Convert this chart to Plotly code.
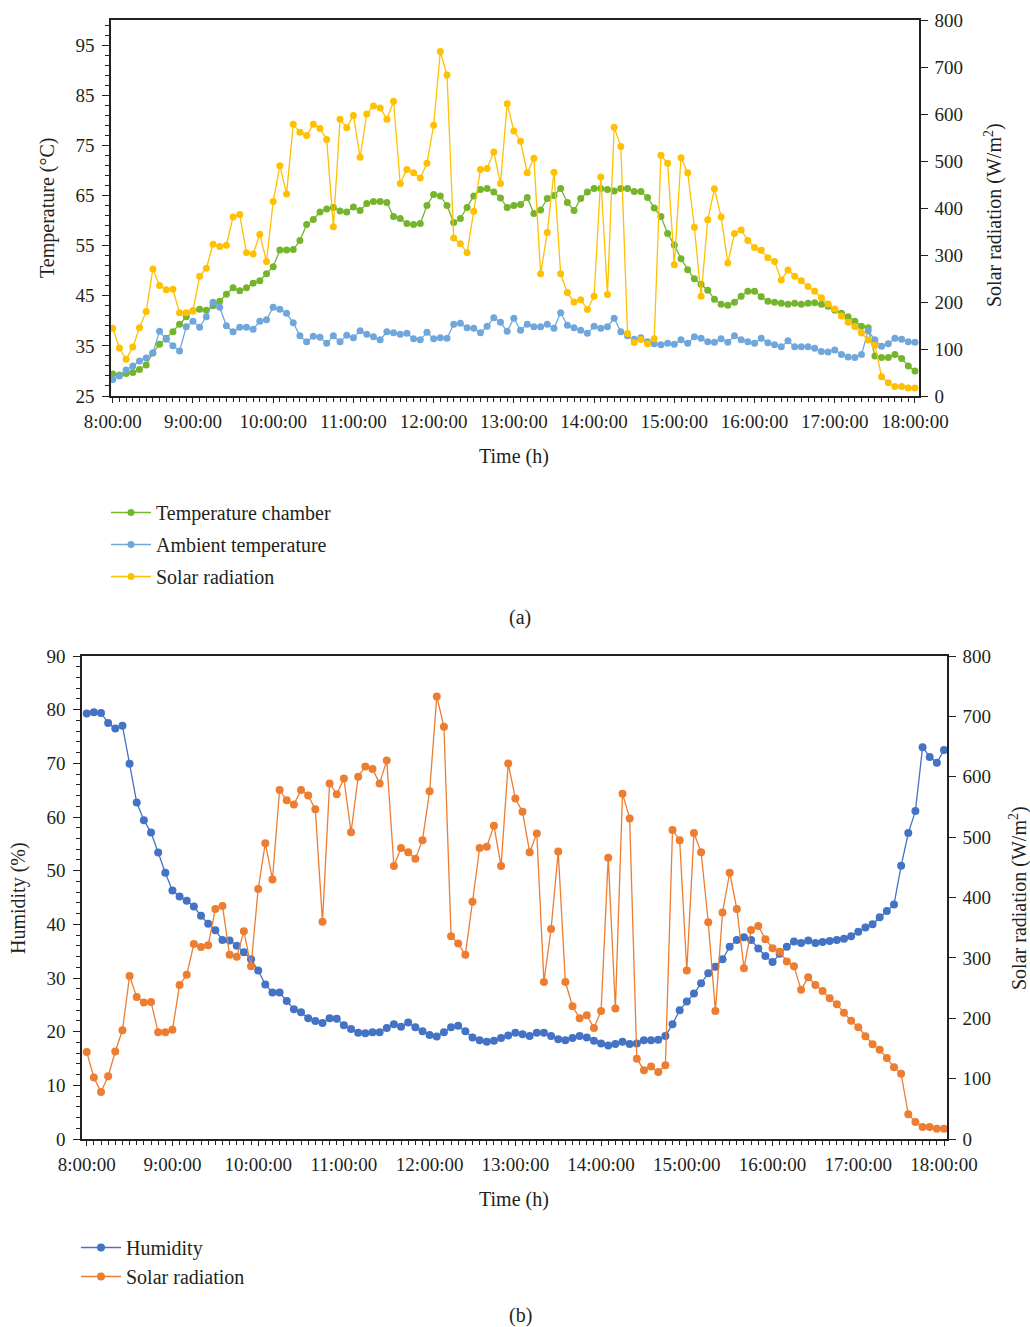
import plotly.graph_objects as go

# ---------------- data ----------------
hour_labels = ["8:00:00", "9:00:00", "10:00:00", "11:00:00", "12:00:00", "13:00:00",
               "14:00:00", "15:00:00", "16:00:00", "17:00:00", "18:00:00"]
hour_ticks = [0, 60, 120, 180, 240, 300, 360, 420, 480, 540, 600]   # minutes after 8:00
# sampling instants: every 5 minutes from 8:00 to 18:00 (minutes after 8:00)
minutes = list(range(0, 601, 5))

temperature_chamber = [
    29.4, 29.2, 29.5, 29.7, 30.3, 31.2, 33.6, 35.3, 36.5, 37.8, 39.3, 40.8, 42.0, 42.3, 42.1, 43.0,
    43.9, 45.3, 46.6, 46.0, 46.6, 47.5, 48.0, 49.4, 50.8, 54.1, 54.1, 54.2, 56.0, 59.2, 60.2, 61.7,
    62.3, 62.6, 61.9, 61.7, 62.7, 62.0, 63.4, 63.8, 63.8, 63.6, 60.8, 60.4, 59.4, 59.2, 59.4, 63.0,
    65.2, 64.9, 63.0, 59.6, 60.4, 62.6, 64.9, 66.2, 66.4, 65.7, 64.5, 62.6, 63.0, 63.2, 64.6, 61.4,
    62.1, 64.4, 65.0, 66.4, 63.6, 62.0, 64.4, 65.7, 66.4, 66.4, 66.2, 65.9, 66.4, 66.4, 65.8, 65.8,
    64.6, 62.5, 60.8, 57.4, 55.1, 52.4, 50.2, 48.4, 47.3, 46.1, 44.3, 43.3, 43.1, 43.7, 44.9, 45.9,
    45.9, 44.8, 43.9, 43.7, 43.5, 43.3, 43.5, 43.3, 43.5, 43.6, 43.3, 42.9, 42.1, 41.5, 40.8, 39.9,
    38.9, 38.6, 33.0, 32.7, 32.7, 33.3, 32.5, 31.0, 30.0]

ambient_temperature = [
    28.3, 29.0, 30.2, 31.0, 32.0, 32.6, 33.6, 37.9, 36.3, 35.0, 34.0, 38.8, 39.9, 38.7, 40.8, 43.7,
    42.7, 39.0, 37.8, 38.7, 38.7, 38.3, 39.9, 40.2, 42.7, 42.3, 41.5, 39.6, 37.0, 35.8, 36.9, 36.7,
    35.5, 37.0, 35.8, 37.1, 36.6, 38.0, 37.3, 36.8, 36.2, 37.8, 37.6, 37.3, 37.5, 36.4, 36.2, 37.7,
    36.4, 36.6, 36.5, 39.3, 39.5, 38.6, 38.5, 37.6, 38.9, 40.6, 39.7, 37.9, 40.5, 38.1, 39.3, 38.8,
    38.8, 39.3, 38.5, 41.6, 39.1, 38.6, 38.1, 37.5, 38.9, 38.5, 38.8, 40.5, 37.8, 37.0, 36.3, 36.6,
    35.8, 35.4, 35.2, 35.5, 35.3, 36.2, 35.5, 36.8, 36.5, 35.8, 35.7, 36.4, 35.7, 37.0, 36.2, 35.8,
    35.5, 36.5, 35.6, 35.2, 34.8, 36.0, 34.8, 34.8, 34.8, 34.5, 33.9, 33.8, 34.2, 33.3, 32.8, 32.7,
    33.3, 38.0, 36.2, 34.9, 35.4, 36.5, 36.3, 35.8, 35.7]

solar_radiation = [
    144, 102, 78, 104, 145, 180, 270, 235, 226, 227, 177, 177, 181, 255, 272, 323,
    318, 321, 381, 386, 305, 302, 344, 286, 414, 490, 430, 578, 561, 554, 578, 569,
    546, 360, 589, 571, 597, 508, 600, 617, 613, 589, 627, 452, 482, 475, 464, 495,
    576, 733, 683, 336, 324, 305, 393, 482, 484, 519, 452, 622, 564, 542, 475, 506,
    260, 348, 476, 260, 220, 200, 205, 184, 212, 466, 216, 572, 531, 133, 114, 120,
    111, 122, 512, 495, 279, 507, 475, 359, 212, 375, 441, 381, 283, 346, 353, 331,
    316, 310, 294, 286, 247, 268, 255, 245, 233, 223, 209, 196, 185, 170, 157, 148,
    134, 119, 108, 41, 28, 20, 20, 17, 17]

humidity = [
    79.3, 79.5, 79.4, 77.5, 76.5, 77.0, 69.9, 62.7, 59.4, 57.1, 53.4, 49.6, 46.3, 45.2, 44.4, 43.3,
    41.6, 40.1, 38.9, 37.1, 37.0, 36.0, 34.8, 33.5, 31.4, 28.8, 27.3, 27.3, 25.7, 24.2, 23.6, 22.5,
    22.0, 21.6, 22.5, 22.4, 21.2, 20.5, 19.8, 19.7, 19.9, 19.9, 20.7, 21.4, 20.9, 21.7, 20.8, 20.1,
    19.4, 19.1, 19.9, 20.8, 21.1, 20.1, 18.9, 18.4, 18.1, 18.3, 18.8, 19.3, 19.8, 19.5, 19.2, 19.8,
    19.8, 19.2, 18.6, 18.4, 18.8, 19.2, 18.9, 18.3, 17.8, 17.4, 17.7, 18.1, 17.7, 17.8, 18.4, 18.4,
    18.5, 19.2, 21.4, 24.0, 25.6, 27.1, 29.0, 30.9, 32.1, 33.5, 35.8, 37.1, 37.6, 37.1, 35.5, 34.1,
    33.0, 34.5, 35.8, 36.8, 36.5, 37.0, 36.5, 36.7, 36.9, 37.1, 37.3, 37.8, 38.6, 39.4, 40.0, 41.3,
    42.5, 43.7, 50.9, 57.0, 61.1, 73.0, 71.2, 70.1, 72.5]

# ---------------- style ----------------
W, H = 1030, 1327
FONT = "Liberation Serif"
AX = "#231f20"
GREEN = "#74B52C"
LBLUE = "#6FA7DC"
YELLOW = "#FFC000"
BLUE = "#4472C4"
ORANGE = "#ED7D31"


def px(x):
    return x / W


def py(y):
    return 1 - y / H


def trace(x, y, name, color, xa, ya, leg, grp, msize):
    return go.Scatter(x=x, y=y, name=name, mode="lines+markers",
                      line=dict(color=color, width=1.3),
                      marker=dict(color=color, size=msize),
                      xaxis=xa, yaxis=ya, legend=leg, legendgroup=grp)


fig = go.Figure()
fig.add_trace(trace(minutes, temperature_chamber, "Temperature chamber", GREEN, "x", "y", "legend", "a1", 7))
fig.add_trace(trace(minutes, ambient_temperature, "Ambient temperature", LBLUE, "x", "y", "legend", "a2", 7))
fig.add_trace(trace(minutes, solar_radiation, "Solar radiation", YELLOW, "x", "y2", "legend", "a3", 7))
fig.add_trace(trace(minutes, humidity, "Humidity", BLUE, "x2", "y3", "legend2", "b1", 8))
fig.add_trace(trace(minutes, solar_radiation, "Solar radiation", ORANGE, "x2", "y4", "legend2", "b2", 8))

tickfont = dict(family=FONT, size=19, color="#231f20")


def xaxis(dom, yanchor, rng):
    return dict(domain=dom, anchor=yanchor, range=rng, tickmode="array",
                tickvals=hour_ticks, ticktext=hour_labels, ticks="outside", ticklen=5,
                tickcolor=AX, tickwidth=1, showline=True, linecolor=AX, linewidth=1.5,
                mirror=True, showgrid=False, zeroline=False, tickfont=tickfont,
                ticklabelstandoff=2, automargin=False,
                minor=dict(tickmode="linear", tick0=0, dtick=5, ticks="outside",
                           ticklen=4, tickcolor=AX, tickwidth=1, showgrid=False))


def yleft(dom, xanchor, rng, t0, dt, mdt):
    return dict(domain=dom, anchor=xanchor, range=rng, tick0=t0, dtick=dt,
                ticks="outside", ticklen=7, tickcolor=AX, tickwidth=1, showline=True,
                linecolor=AX, linewidth=1.5, showgrid=False, zeroline=False,
                tickfont=tickfont, ticklabelstandoff=4, automargin=False,
                minor=dict(tick0=t0, dtick=mdt, ticks="outside", ticklen=4,
                           tickcolor=AX, tickwidth=1, showgrid=False))


def yright(over, xanchor, rng):
    return dict(overlaying=over, anchor=xanchor, side="right", range=rng, tick0=0,
                dtick=100, ticks="outside", ticklen=7, tickcolor=AX, tickwidth=1,
                showline=True, linecolor=AX, linewidth=1.5, showgrid=False,
                zeroline=False, tickfont=tickfont, ticklabelstandoff=3, automargin=False)


fig.update_layout(
    width=W, height=H,
    margin=dict(l=0, r=0, t=0, b=0, autoexpand=False),
    paper_bgcolor="white", plot_bgcolor="white",
    font=dict(family=FONT, size=20, color="#231f20"),
    xaxis=xaxis([px(111), px(919)], "y", [-1.3, 603]),
    yaxis=yleft([py(396), py(20)], "x", [25, 100], 25, 10, 2),
    yaxis2=yright("y", "x", [0, 800]),
    xaxis2=xaxis([px(82), px(947)], "y3", [-3.3, 602.1]),
    yaxis3=yleft([py(1139), py(656)], "x2", [0, 90], 0, 10, 2),
    yaxis4=yright("y3", "x2", [0, 800]),
    legend=dict(x=px(106), y=py(493), xanchor="left", yanchor="top",
                orientation="v", tracegroupgap=3, bgcolor="rgba(0,0,0,0)",
                font=dict(family=FONT, size=20), itemwidth=40),
    legend2=dict(x=px(76), y=py(1228), xanchor="left", yanchor="top",
                 orientation="v", tracegroupgap=0, bgcolor="rgba(0,0,0,0)",
                 font=dict(family=FONT, size=20), itemwidth=40),
    showlegend=True,
)

annots = [
    ("Time (h)", 514, 456, 0),
    ("Temperature (°C)", 47, 208, -90),
    ("Solar radiation (W/m<sup>2</sup>)", 993, 215, -90),
    ("(a)", 520, 617, 0),
    ("Time (h)", 514, 1199, 0),
    ("Humidity (%)", 18, 898, -90),
    ("Solar radiation (W/m<sup>2</sup>)", 1018, 898, -90),
    ("(b)", 520, 1315, 0),
]
for text, x, y, ang in annots:
    fig.add_annotation(text=text, x=px(x), y=py(y), xref="paper", yref="paper",
                       xanchor="center", yanchor="middle", showarrow=False,
                       textangle=ang, font=dict(family=FONT, size=20, color="#231f20"))

# remove the page's default body margin so the 1030x1327 figure fills the window exactly
fig.write_html("out.html", config={"displayModeBar": False},
               post_script="document.body.style.margin='0';document.body.style.overflow='hidden';")
